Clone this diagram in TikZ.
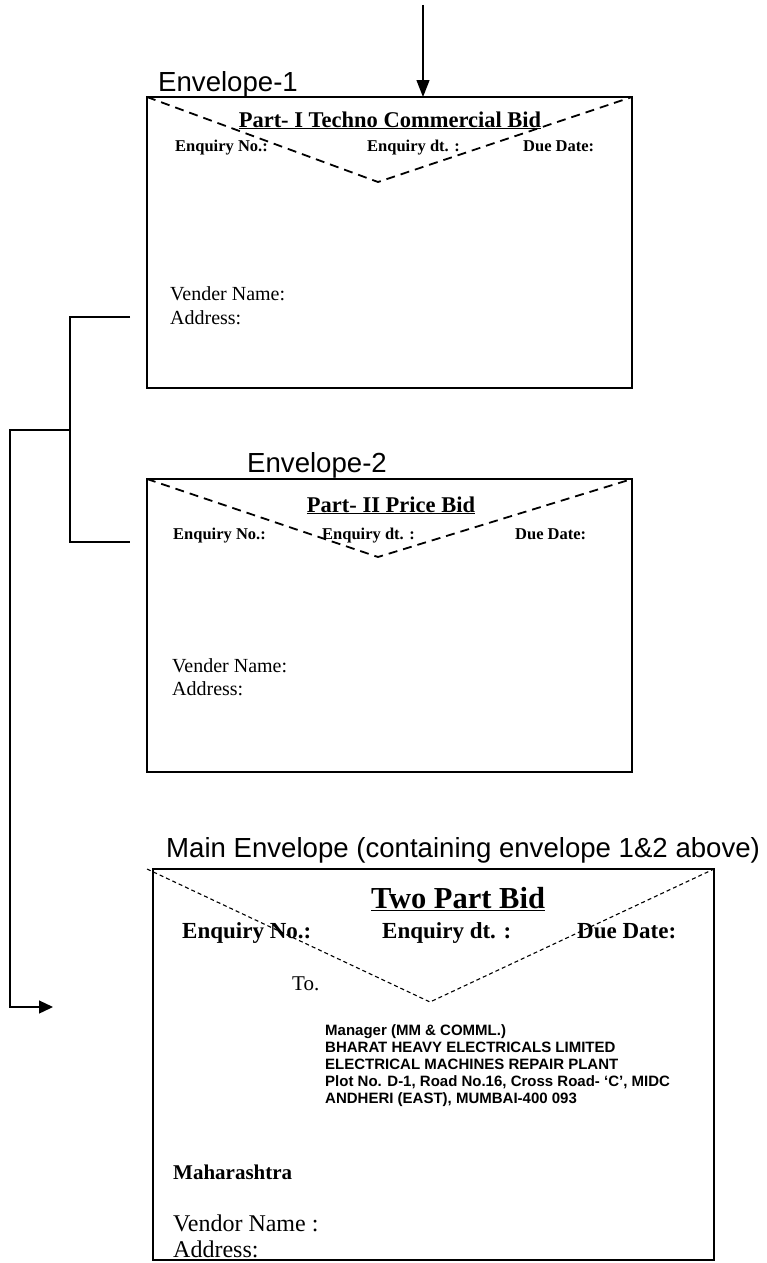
\documentclass[tikz,border=0pt]{standalone}
\usepackage{fontspec}
\setmainfont{Liberation Serif}
\newfontfamily\arialf{Liberation Sans}
\usetikzlibrary{arrows.meta}
\begin{document}
\begin{tikzpicture}[x=1pt,y=-1pt,
  envbox/.style={draw, line width=1.7pt, inner sep=0pt, outer sep=0pt, anchor=north west},
  flapa/.style={line width=1.8pt, dash pattern=on 9pt off 6pt},
  flapb/.style={line width=1.1pt, dash pattern=on 4pt off 3pt},
  conn/.style={line width=1.3pt},
  tipa/.style={-{Triangle[length=17pt,width=13pt]}},
  lbl/.style={inner sep=0pt, anchor=base west, font=\arialf\fontsize{27.6}{32}\selectfont},
  ttl/.style={inner sep=0pt, anchor=base, font=\bfseries\fontsize{22.5}{26}\selectfont},
  enq/.style={inner sep=0pt, anchor=base west, font=\bfseries\fontsize{16.5}{19}\selectfont},
  vend/.style={inner sep=0pt, anchor=base west, font=\fontsize{20}{23}\selectfont},
  mttl/.style={inner sep=0pt, anchor=base, font=\bfseries\fontsize{30.5}{34}\selectfont},
  menq/.style={inner sep=0pt, anchor=base west, font=\bfseries\fontsize{23}{26}\selectfont},
  addr/.style={inner sep=0pt, anchor=base west, font=\arialf\bfseries\fontsize{15}{17}\selectfont},
  mtxt/.style={inner sep=0pt, anchor=base west, font=\fontsize{24}{28}\selectfont},
]
\useasboundingbox (0,0) rectangle (766,1263);

% envelopes
\node[envbox, minimum width=485pt, minimum height=291pt] (env1) at (147,97) {};
\node[envbox, minimum width=485pt, minimum height=293pt] (env2) at (147,479) {};
\node[envbox, minimum width=561pt, minimum height=391pt] (mainenv) at (153,869) {};

% flaps
\coordinate (apex1) at (378,182);
\coordinate (apex2) at (378,557);
\coordinate (apex3) at (430,1002);
\coordinate (m1) at (147,869);
\draw[flapa] (env1.north west) -- (apex1) -- (env1.north east);
\draw[flapa] (env2.north west) -- (apex2) -- (env2.north east);
\draw[flapb] (m1) -- (apex3) -- (mainenv.north east);

% labels
\node[lbl] (l1) at (158,92) {Envelope-1};
\node[lbl] (l2) at (247,472) {Envelope-2};
\node[lbl] (l3) at (166,857) {Main Envelope (containing envelope 1\&2 above)};

% envelope 1 text
\node[ttl] (t1) at (390,127) {\underline{Part- I Techno Commercial Bid}};
\node[enq] (e1a) at (175,151) {Enquiry No.:};
\node[enq] (e1b) at (367,151) {Enquiry dt. :};
\node[enq] (e1c) at (523,151) {Due Date:};
\node[vend] (v1) at (170,300) {Vender Name:};
\node[vend] (a1) at (170,324) {Address:};

% envelope 2 text
\node[ttl] (t2) at (391,512) {\underline{Part- II Price Bid}};
\node[enq] (e2a) at (173,539) {Enquiry No.:};
\node[enq] (e2b) at (322,539) {Enquiry dt. :};
\node[enq] (e2c) at (515,539) {Due Date:};
\node[vend] (v2) at (172,672) {Vender Name:};
\node[vend] (a2) at (172,695) {Address:};

% main envelope text
\node[mttl] (t3) at (458,908) {\underline{Two Part Bid}};
\node[menq] (e3a) at (182,938) {Enquiry No.:};
\node[menq] (e3b) at (382,938) {Enquiry dt. :};
\node[menq] (e3c) at (577,938) {Due Date:};
\node[inner sep=0pt, anchor=base west, font=\fontsize{21}{24}\selectfont] (to) at (292,990) {To.};
\node[addr] (ad1) at (325,1035) {Manager (MM \& COMML.)};
\node[addr] (ad2) at (325,1052) {BHARAT HEAVY ELECTRICALS LIMITED};
\node[addr] (ad3) at (325,1069) {ELECTRICAL MACHINES REPAIR PLANT};
\node[addr] (ad4) at (325,1086) {Plot No. D-1, Road No.16, Cross Road- ‘C’, MIDC};
\node[addr] (ad5) at (325,1103) {ANDHERI (EAST), MUMBAI-400 093};
\node[inner sep=0pt, anchor=base west, font=\bfseries\fontsize{21}{24}\selectfont] (mh) at (173,1179) {Maharashtra};
\node[mtxt] (vn3) at (173,1231) {Vendor Name :};
\node[mtxt] (ad3b) at (173,1257) {Address:};

% connectors
\coordinate (topstart) at (423,5);
\draw[conn, tipa] (topstart) -- (topstart |- env1.north);
\coordinate (c1) at (130,317);
\coordinate (c2) at (130,542);
\coordinate (jx) at (70,430);
\coordinate (lx) at (10,430);
\coordinate (atip) at (53,1007);
\draw[conn] (c1) -| (jx) |- (c2);
\draw[conn, -{Triangle[length=14pt,width=13pt]}] (jx) -- (lx) |- (atip);
\end{tikzpicture}
\end{document}
